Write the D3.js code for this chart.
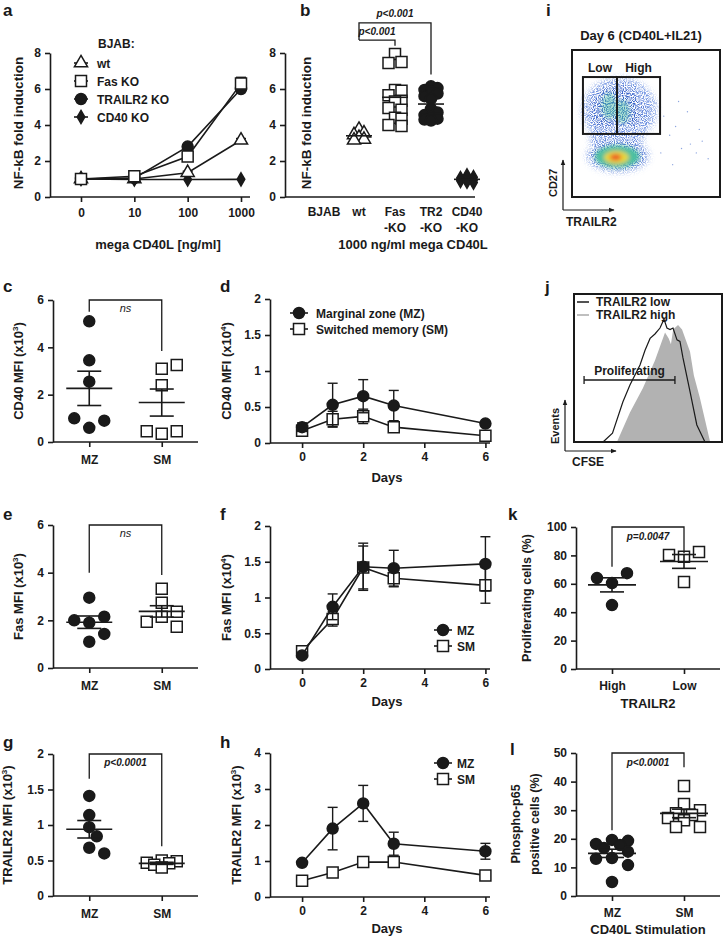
<!DOCTYPE html>
<html>
<head>
<meta charset="utf-8">
<script src="https://cdn.jsdelivr.net/npm/d3@7"></script>
<style>
  body { margin: 0; background: #fff; }
  text { font-family: "Liberation Sans", Arial, sans-serif; font-weight: bold; fill: #1a1a1a; }
</style>
</head>
<body>
<script>
// ---------- data ----------
// a: NF-kB fold induction vs mega CD40L dose (ng/ml)
const aDoses = ["0", "10", "100", "1000"];
const aNames = ["wt", "Fas KO", "TRAILR2 KO", "CD40 KO"];
const aWt = [1.0, 1.0, 1.35, 3.15];
const aWtSem = [0.02, 0.03, 0.08, 0.1];
const aFas = [1.0, 1.15, 2.25, 6.3];
const aFasSem = [0.03, 0.05, 0.1, 0.35];
const aTr2 = [1.0, 1.05, 2.8, 6.0];
const aTr2Sem = [0.02, 0.04, 0.08, 0.1];
const aCd40 = [1.0, 0.97, 0.97, 0.98];

// b: 1000 ng/ml mega CD40L
const bGroups = ["wt", "Fas-KO", "TR2-KO", "CD40-KO"];
const bWt = [3.75, 3.55, 3.45, 3.3, 3.2, 3.15];
const bFas = [7.95, 7.5, 7.45, 5.95, 5.9, 5.65, 5.35, 5.3, 4.95, 4.85, 4.4, 4.35, 4.0, 3.95];
const bTr2 = [6.15, 6.05, 5.95, 5.85, 5.75, 5.6, 5.45, 4.9, 4.7, 4.55, 4.45, 4.35, 4.3, 4.25];
const bCd40 = [1.2, 1.1, 1.05, 1.0, 0.95, 0.9, 0.85, 0.8];

// c, e, g: MZ vs SM (x10^3)
const cellTypes = ["MZ", "SM"];
const cMZ = [5.1, 3.45, 2.55, 0.6, 0.9, 1.0];
const cSM = [3.1, 3.25, 2.4, 0.35, 0.45, 0.45];
const eMZ = [2.95, 1.9, 2.15, 2.0, 1.43, 1.1];
const eSM = [3.33, 2.74, 2.36, 2.15, 1.94, 1.73];
const gMZ = [1.41, 1.14, 0.97, 0.84, 0.68, 0.60];
const gSM = [0.50, 0.49, 0.47, 0.46, 0.44, 0.40];

// d, f, h: time course
const days = [0, 1, 2, 3, 6];
const dMZ = [0.22, 0.53, 0.65, 0.52, 0.27];
const dMZSem = [0.06, 0.30, 0.23, 0.21, 0.02];
const dSM = [0.17, 0.33, 0.37, 0.22, 0.10];
const dSMSem = [0.03, 0.11, 0.10, 0.03, 0.05];
const fMZ = [0.19, 0.87, 1.43, 1.41, 1.47];
const fMZSem = [0.02, 0.18, 0.33, 0.25, 0.38];
const fSM = [0.25, 0.70, 1.42, 1.27, 1.17];
const fSMSem = [0.03, 0.10, 0.30, 0.12, 0.25];
const hMZ = [0.95, 1.9, 2.6, 1.48, 1.27];
const hMZSem = [0.04, 0.59, 0.50, 0.32, 0.22];
const hSM = [0.45, 0.68, 0.97, 0.97, 0.60];
const hSMSem = [0.02, 0.04, 0.05, 0.05, 0.04];

// i: CD27 vs TRAILR2 density contours (axis units 0-100)
const densTRAILR2 = [32, 30, 30, 25, 34, 31, 31, 30.5, 30, 29.5];
const densCD27 = [59, 59, 40, 62, 58, 28, 28, 27.5, 27, 27];
const densRx = [25, 17, 18, 5, 5, 21, 17, 15, 8.5, 4];
const densRy = [22, 16, 10, 9, 8, 11, 9, 7.5, 4.5, 2.2];
const densLevel = [0, 1, 0, 2, 2, 0, 1, 2, 3, 4];
const sparseTRAILR2 = [62, 66, 70, 74, 80, 84, 88, 92, 60, 68, 78, 72, 86, 57];
const sparseCD27 = [55, 42, 48, 33, 36, 30, 38, 26, 30, 22, 58, 65, 46, 64];
const gateNames = ["Low", "High"];
const gateTRAILR2 = [7.4, 30.4, 59.5];
const gateCD27 = [42.9, 81.6];

// j: CFSE histograms
const cfseLow = [19.6, 26, 33, 37.8, 44.6, 48, 51.4, 54.7, 58.1, 60.8, 62.8, 64.9, 66.9, 69.6, 71.6, 73.6, 78.4, 83, 88.5];
const eventsLow = [0, 6, 27, 38.5, 52, 62, 70, 73, 77, 83, 77, 76, 77, 69, 68, 57, 34, 11.5, 0];
const cfseHigh = [29, 37.8, 46.6, 54.7, 61.5, 64, 65.5, 67, 70.3, 73, 78.4, 81, 85, 88.5, 92];
const eventsHigh = [0, 20, 36.5, 55, 74, 70, 66, 76, 79, 76, 61, 45, 30, 15, 0];
const proliferatingGate = [6.8, 68.2];

// k: proliferating cells (%)
const trailr2Groups = ["High", "Low"];
const kHigh = [60.5, 45, 67.5, 64];
const kLow = [79, 61.3, 82.4, 80.3];

// l: phospho-p65 positive cells (%)
const lMZ = [19.6, 19.3, 18.2, 17.8, 16.8, 15.5, 13.3, 13.0, 10.8, 4.9];
const lSM = [38.5, 32.2, 30.0, 28.9, 28.3, 27.3, 26.5, 24.1, 24.1];

// ---------- drawing ----------
const ink = "#1a1a1a";
const LW = 1.6;
const svg = d3.select("body").append("svg")
  .attr("width", 725).attr("height", 939).style("display", "block");

const defs = svg.append("defs");
defs.append("marker").attr("id", "arr").attr("viewBox", "0 0 10 10")
  .attr("refX", 9).attr("refY", 5).attr("markerWidth", 5).attr("markerHeight", 5)
  .attr("orient", "auto")
  .append("path").attr("d", "M0,1L10,5L0,9Z").attr("fill", ink);
defs.append("filter").attr("id", "blur").attr("x", "-50%").attr("y", "-50%").attr("width", "200%").attr("height", "200%")
  .append("feGaussianBlur").attr("stdDeviation", 2);
const speck = defs.append("filter").attr("id", "speck").attr("x", "-50%").attr("y", "-50%").attr("width", "200%").attr("height", "200%");
speck.append("feGaussianBlur").attr("in", "SourceGraphic").attr("stdDeviation", 3).attr("result", "b");
speck.append("feTurbulence").attr("type", "fractalNoise").attr("baseFrequency", 0.9).attr("numOctaves", 1).attr("seed", 4).attr("result", "n");
speck.append("feColorMatrix").attr("in", "n").attr("type", "matrix")
  .attr("values", "0 0 0 0 0  0 0 0 0 0  0 0 0 0 0  4 0 0 0 -1.6").attr("result", "m");
speck.append("feComposite").attr("in", "b").attr("in2", "m").attr("operator", "in");

function axisStyle(g) {
  g.attr("font-family", null).attr("font-size", null);
  g.selectAll("path, line").attr("stroke", ink).attr("stroke-width", LW);
  g.selectAll("text").attr("font-size", 12).attr("fill", ink);
}

function leftAxis(x0, y, ticks) {
  const g = svg.append("g").attr("transform", `translate(${x0},0)`)
    .call(d3.axisLeft(y).tickValues(ticks).tickSize(5).tickSizeOuter(0).tickPadding(4).tickFormat(d3.format("")));
  axisStyle(g);
  return g;
}

function bottomAxis(y0, x, x1, x2, ticks, pad) {
  const ax = d3.axisBottom(x).tickSize(5).tickPadding(pad).tickFormat(d => d);
  if (ticks) ax.tickValues(ticks);
  const g = svg.append("g").attr("transform", `translate(0,${y0})`).call(ax);
  g.select(".domain").remove();
  g.append("line").attr("x1", x1).attr("x2", x2);
  axisStyle(g);
  return g;
}

function text(x, y, s, o = {}) {
  const t = svg.append("text").attr("x", x).attr("y", y).text(s)
    .attr("font-size", o.size || 12).attr("text-anchor", o.anchor || "start");
  if (o.italic) t.attr("font-style", "italic");
  if (o.normal) t.style("font-weight", "normal");
  return t;
}

function yTitle(x, yc, main, sup, size) {
  const t = svg.append("text").attr("transform", `translate(${x},${yc}) rotate(-90)`)
    .attr("text-anchor", "middle").attr("font-size", size || 13);
  t.append("tspan").text(main);
  if (sup) {
    t.append("tspan").attr("dy", -5).attr("font-size", 8).text(sup);
    t.append("tspan").attr("dy", 5).text(")");
  }
}

// simple beeswarm: try centre, then right/left slots up to maxK steps
function swarm(values, y, step, minDist, maxK) {
  const placed = [];
  values.forEach(v => {
    const py = y(v);
    let best = 0, bestD = -1;
    for (let k = 0; k <= 2 * maxK; k++) {
      const off = k === 0 ? 0 : (k % 2 ? 1 : -1) * Math.ceil(k / 2) * step;
      const dmin = placed.length ? d3.min(placed, p => Math.hypot(p.dx - off, p.py - py)) : Infinity;
      if (dmin >= minDist) { best = off; break; }
      if (dmin > bestD) { bestD = dmin; best = off; }
    }
    placed.push({ v, py, dx: best });
  });
  return placed;
}

function dotGroup(cx, vals, y, sym, size, fill, sw, meanW, sem) {
  const pts = swarm(vals, y, sw[0], sw[1], sw[2]);
  const g = svg.append("g");
  g.selectAll("path").data(pts).join("path")
    .attr("transform", d => `translate(${cx + d.dx},${d.py})`)
    .attr("d", d3.symbol(sym, size))
    .attr("fill", fill).attr("stroke", ink).attr("stroke-width", 1.5);
  const m = d3.mean(vals);
  const s = d3.deviation(vals) / Math.sqrt(vals.length);
  const lines = [[cx - meanW / 2, y(m), cx + meanW / 2, y(m)]];
  if (sem) {
    lines.push([cx, y(m - s), cx, y(m + s)]);
    lines.push([cx - 12, y(m + s), cx + 12, y(m + s)]);
    lines.push([cx - 12, y(m - s), cx + 12, y(m - s)]);
  }
  g.selectAll("line").data(lines).join("line")
    .attr("x1", d => d[0]).attr("y1", d => d[1]).attr("x2", d => d[2]).attr("y2", d => d[3])
    .attr("stroke", ink).attr("stroke-width", LW);
}

function bracket(y, xa, xb, top, la, lb, label, ty, bold) {
  svg.append("path").attr("fill", "none").attr("stroke", ink).attr("stroke-width", 1.3)
    .attr("d", `M${xa},${y(la)}V${y(top)}H${xb}V${y(lb)}`);
  text((xa + xb) / 2, y(top) + ty, label, { anchor: "middle", size: bold ? 10 : 11, italic: true, normal: !bold });
}

function series(x, y, xs, vals, sem, sym, size, fill) {
  const pts = vals.map((v, i) => ({ x: xs[i], v, e: sem ? sem[i] : 0 }));
  const g = svg.append("g");
  g.append("path").datum(pts).attr("fill", "none").attr("stroke", ink).attr("stroke-width", LW)
    .attr("d", d3.line().x(d => x(d.x)).y(d => y(d.v)));
  const eb = g.append("g").selectAll("g").data(pts.filter(d => d.e > 0)).join("g")
    .attr("stroke", ink).attr("stroke-width", 1.4);
  eb.append("line").attr("x1", d => x(d.x)).attr("x2", d => x(d.x))
    .attr("y1", d => y(d.v - d.e)).attr("y2", d => y(d.v + d.e));
  eb.append("line").attr("x1", d => x(d.x) - 5).attr("x2", d => x(d.x) + 5)
    .attr("y1", d => y(d.v + d.e)).attr("y2", d => y(d.v + d.e));
  eb.append("line").attr("x1", d => x(d.x) - 5).attr("x2", d => x(d.x) + 5)
    .attr("y1", d => y(d.v - d.e)).attr("y2", d => y(d.v - d.e));
  g.append("g").selectAll("path").data(pts).join("path")
    .attr("transform", d => `translate(${x(d.x)},${y(d.v)})`)
    .attr("d", d3.symbol(sym, size)).attr("fill", fill)
    .attr("stroke", ink).attr("stroke-width", 1.5);
}

function legendItem(x, y, half, sym, size, fill, label, tx) {
  svg.append("line").attr("x1", x - half).attr("x2", x + half).attr("y1", y).attr("y2", y)
    .attr("stroke", ink).attr("stroke-width", LW);
  svg.append("path").attr("transform", `translate(${x},${y})`).attr("d", d3.symbol(sym, size))
    .attr("fill", fill).attr("stroke", ink).attr("stroke-width", 1.5);
  text(tx, y + 4.5, label);
}

const SQ = 121, CI = 95, TRI = 75, DIA = 50;

// panel letters
[["a", 3, 16], ["b", 300, 16], ["i", 546, 16], ["c", 3, 292], ["d", 220, 292], ["j", 545, 293],
 ["e", 3, 520], ["f", 220, 520], ["k", 508, 520], ["g", 3, 748], ["h", 220, 748], ["l", 510, 755]]
  .forEach(d => text(d[1], d[2], d[0], { size: 17 }));

// ----- a -----
{
  const y = d3.scaleLinear().domain([0, 8]).range([197, 53]);
  const x = d3.scalePoint().domain(aDoses).range([81, 241]);
  leftAxis(50, y, [0, 2, 4, 6, 8]);
  bottomAxis(197, x, 50, 250, null, 6);
  series(x, y, aDoses, aCd40, null, d3.symbolDiamond, DIA, ink);
  series(x, y, aDoses, aWt, aWtSem, d3.symbolTriangle, TRI, "#fff");
  series(x, y, aDoses, aTr2, aTr2Sem, d3.symbolCircle, CI, ink);
  series(x, y, aDoses, aFas, aFasSem, d3.symbolSquare, SQ, "#fff");
  yTitle(23, 123, "NF-kB fold induction", null, 13.5);
  text(158, 249, "mega CD40L [ng/ml]", { anchor: "middle", size: 13 });
  text(98, 48, "BJAB:");
  const syms = [[d3.symbolTriangle, TRI, "#fff"], [d3.symbolSquare, SQ, "#fff"], [d3.symbolCircle, CI, ink], [d3.symbolDiamond, DIA, ink]];
  aNames.forEach((n, i) => legendItem(81, 63 + i * 18, 7, syms[i][0], syms[i][1], syms[i][2], n, 97));
}

// ----- b -----
{
  const y = d3.scaleLinear().domain([0, 8]).range([197, 53]);
  const x = d3.scalePoint().domain(bGroups).range([359, 467]);
  leftAxis(285, y, [0, 2, 4, 6, 8]);
  svg.append("line").attr("x1", 285).attr("x2", 475).attr("y1", 197).attr("y2", 197)
    .attr("stroke", ink).attr("stroke-width", LW);
  bGroups.forEach(n => {
    const parts = n.split("-");
    text(x(n), 216, parts[0], { anchor: "middle" });
    if (parts[1]) text(x(n), 232, "-" + parts[1], { anchor: "middle" });
  });
  text(324, 216, "BJAB", { anchor: "middle" });
  const sw = [6.5, 9, 1];
  dotGroup(x("wt"), bWt, y, d3.symbolTriangle, TRI, "#fff", [5, 9, 1], 26, false);
  dotGroup(x("Fas-KO"), bFas, y, d3.symbolSquare, SQ, "#fff", sw, 26, false);
  dotGroup(x("TR2-KO"), bTr2, y, d3.symbolCircle, CI, ink, sw, 26, false);
  dotGroup(x("CD40-KO"), bCd40, y, d3.symbolDiamond, DIA, ink, sw, 26, false);
  bracket(y, x("wt"), x("TR2-KO"), 9.67, 8.72, 6.8, "p<0.001", -6, true);
  bracket(y, x("wt"), x("Fas-KO"), 8.72, 8.72, 8.4, "p<0.001", -5, true);
  yTitle(311, 123, "NF-kB fold induction", null, 13.5);
  text(413, 249, "1000 ng/ml mega CD40L", { anchor: "middle", size: 13 });
}

// ----- i -----
{
  const x = d3.scaleLinear().domain([0, 100]).range([572, 720]);
  const y = d3.scaleLinear().domain([0, 100]).range([197, 50]);
  const levelColor = ["#6a8ee0", "#3660c8", "#4cc0a0", "#e8d83a", "#ec4f25"];
  const dens = densLevel.map((l, i) => ({ l, cx: densTRAILR2[i], cy: densCD27[i], rx: densRx[i], ry: densRy[i] }));
  const outer = svg.append("g").attr("filter", "url(#speck)");
  outer.selectAll("ellipse").data(dens.filter(d => d.l < 2)).join("ellipse")
    .attr("cx", d => x(d.cx)).attr("cy", d => y(d.cy))
    .attr("rx", d => x(d.rx) - x(0)).attr("ry", d => y(0) - y(d.ry))
    .attr("fill", d => levelColor[d.l]);
  const inner = svg.append("g").attr("filter", "url(#blur)");
  inner.selectAll("ellipse").data(dens.filter(d => d.l >= 2)).join("ellipse")
    .attr("cx", d => x(d.cx)).attr("cy", d => y(d.cy))
    .attr("rx", d => x(d.rx) - x(0)).attr("ry", d => y(0) - y(d.ry))
    .attr("fill", d => levelColor[d.l]).attr("opacity", d => d.cy > 45 ? 0.45 : 1);
  svg.append("g").selectAll("circle").data(sparseTRAILR2).join("circle")
    .attr("cx", d => x(d)).attr("cy", (d, i) => y(sparseCD27[i])).attr("r", 0.7)
    .attr("fill", "#8ea6e0");
  svg.append("rect").attr("x", 572).attr("y", 50).attr("width", 148).attr("height", 147)
    .attr("fill", "none").attr("stroke", ink).attr("stroke-width", 2);
  gateNames.forEach((n, i) => {
    svg.append("rect").attr("x", x(gateTRAILR2[i])).attr("y", y(gateCD27[1]))
      .attr("width", x(gateTRAILR2[i + 1]) - x(gateTRAILR2[i])).attr("height", y(gateCD27[0]) - y(gateCD27[1]))
      .attr("fill", "none").attr("stroke", ink).attr("stroke-width", 2);
    text((x(gateTRAILR2[i]) + x(gateTRAILR2[i + 1])) / 2, 72, n, { anchor: "middle" });
  });
  text(641, 40, "Day 6 (CD40L+IL21)", { anchor: "middle", size: 13 });
  svg.append("path").attr("d", "M563,210V160").attr("stroke", ink).attr("stroke-width", 1.2).attr("marker-end", "url(#arr)");
  svg.append("path").attr("d", "M563,210H614").attr("stroke", ink).attr("stroke-width", 1.2).attr("marker-end", "url(#arr)");
  svg.append("text").attr("transform", "translate(557,183) rotate(-90)").attr("text-anchor", "middle").attr("font-size", 11).text("CD27");
  text(566, 226, "TRAILR2", { size: 12 });
}

// ----- j -----
{
  const x = d3.scaleLinear().domain([0, 100]).range([574, 722]);
  const y = d3.scaleLinear().domain([0, 100]).range([442, 294]);
  text(596, 306, "TRAILR2 low");
  text(596, 319, "TRAILR2 high");
  svg.append("line").attr("x1", 577).attr("x2", 589).attr("y1", 302).attr("y2", 302).attr("stroke", ink).attr("stroke-width", 1.5);
  svg.append("line").attr("x1", 577).attr("x2", 589).attr("y1", 315).attr("y2", 315).attr("stroke", "#aaa").attr("stroke-width", 1.5);
  svg.append("path").datum(cfseHigh.map((c, i) => [c, eventsHigh[i]]))
    .attr("fill", "#b2b2b2").attr("stroke", "none")
    .attr("d", d3.area().x(d => x(d[0])).y0(y(0)).y1(d => y(d[1])));
  svg.append("path").datum(cfseLow.map((c, i) => [c, eventsLow[i]]))
    .attr("fill", "none").attr("stroke", ink).attr("stroke-width", 1.2)
    .attr("d", d3.line().x(d => x(d[0])).y(d => y(d[1])));
  const py = 380;
  const p0 = x(proliferatingGate[0]), p1 = x(proliferatingGate[1]);
  svg.append("path").attr("fill", "none").attr("stroke", ink).attr("stroke-width", 1.3)
    .attr("d", `M${p0},${py - 4}V${py + 4}M${p0},${py}H${p1}M${p1},${py - 4}V${py + 4}`);
  text((p0 + p1) / 2, 375, "Proliferating", { anchor: "middle" });
  svg.append("rect").attr("x", 574).attr("y", 294).attr("width", 148).attr("height", 148)
    .attr("fill", "none").attr("stroke", ink).attr("stroke-width", 2);
  svg.append("path").attr("d", "M565,451V400").attr("stroke", ink).attr("stroke-width", 1.2).attr("marker-end", "url(#arr)");
  svg.append("path").attr("d", "M565,451H616").attr("stroke", ink).attr("stroke-width", 1.2).attr("marker-end", "url(#arr)");
  svg.append("text").attr("transform", "translate(559,426) rotate(-90)").attr("text-anchor", "middle").attr("font-size", 11).text("Events");
  text(572, 466, "CFSE", { size: 12 });
}

// ----- dot panels c, e, g -----
function cellPanel(y0, y1, domain, ticks, mz, sm, sw, br, titleX, title, sup) {
  const y = d3.scaleLinear().domain(domain).range([y0, y1]);
  const x = d3.scalePoint().domain(cellTypes).range([53, 198]).padding(0.5);
  leftAxis(53, y, ticks);
  bottomAxis(y0, x, 53, 198, null, 8);
  dotGroup(x("MZ"), mz, y, d3.symbolCircle, CI, ink, sw, 46, true);
  dotGroup(x("SM"), sm, y, d3.symbolSquare, SQ, "#fff", sw, 46, true);
  bracket(y, x("MZ"), x("SM"), domain[1], br[0], br[1], br[2], 12, br[2] !== "ns");
  yTitle(titleX, (y0 + y1) / 2, title, sup);
}
cellPanel(442, 300, [0, 6], [0, 2, 4, 6], cMZ, cSM, [15, 13, 1], [5.5, 3.85, "ns"], 23, "CD40 MFI (x10", "3");
cellPanel(668, 525, [0, 6], [0, 2, 4, 6], eMZ, eSM, [15, 13, 1], [4.0, 3.9, "ns"], 23, "Fas MFI (x10", "3");
cellPanel(896, 754, [0, 2], [0, 0.5, 1, 1.5, 2], gMZ, gSM, [7.5, 11, 2], [1.65, 0.7, "p<0.0001"], 12, "TRAILR2 MFI (x10", "3");

// ----- time course panels d, f, h -----
function timePanel(y0, y1, domain, ticks, mz, mzSem, sm, smSem, titleX, title, sup, daysY) {
  const y = d3.scaleLinear().domain(domain).range([y0, y1]);
  const x = d3.scaleLinear().domain([-1.05, 6.15]).range([270, 490]);
  leftAxis(270, y, ticks);
  bottomAxis(y0, x, 270, 490, [0, 2, 4, 6], 4);
  series(x, y, days, sm, smSem, d3.symbolSquare, SQ, "#fff");
  series(x, y, days, mz, mzSem, d3.symbolCircle, CI, ink);
  yTitle(titleX, (y0 + y1) / 2, title, sup);
  text(387, daysY, "Days", { anchor: "middle", size: 13 });
}
timePanel(443, 299, [0, 2], [0, 0.5, 1, 1.5, 2], dMZ, dMZSem, dSM, dSMSem, 231, "CD40 MFI (x10", "4", 482);
legendItem(299, 313, 9, d3.symbolCircle, CI, ink, "Marginal zone (MZ)", 316);
legendItem(299, 329, 9, d3.symbolSquare, SQ, "#fff", "Switched memory (SM)", 316);
timePanel(669, 526, [0, 2], [0, 0.5, 1, 1.5, 2], fMZ, fMZSem, fSM, fSMSem, 231, "Fas MFI (x10", "4", 706);
legendItem(443, 630, 9, d3.symbolCircle, CI, ink, "MZ", 457);
legendItem(443, 646, 9, d3.symbolSquare, SQ, "#fff", "SM", 457);
timePanel(897, 753, [0, 4], [0, 1, 2, 3, 4], hMZ, hMZSem, hSM, hSMSem, 241, "TRAILR2 MFI (x10", "3", 933);
legendItem(443, 763, 9, d3.symbolCircle, CI, ink, "MZ", 457);
legendItem(443, 779, 9, d3.symbolSquare, SQ, "#fff", "SM", 457);

// ----- k -----
{
  const y = d3.scaleLinear().domain([0, 100]).range([669, 527]);
  const x = d3.scalePoint().domain(trailr2Groups).range([576, 720]).padding(0.5);
  leftAxis(576, y, [0, 20, 40, 60, 80, 100]);
  bottomAxis(669, x, 576, 720, null, 7);
  dotGroup(x("High"), kHigh, y, d3.symbolCircle, CI, ink, [15, 13, 1], 48, true);
  dotGroup(x("Low"), kLow, y, d3.symbolSquare, SQ, "#fff", [15, 13, 1], 48, true);
  bracket(y, x("High"), x("Low"), 100, 72, 81.5, "p=0.0047", 13, true);
  yTitle(531, 598, "Proliferating cells (%)", null, 12.5);
  text(648, 708, "TRAILR2", { anchor: "middle", size: 13 });
}

// ----- l -----
{
  const y = d3.scaleLinear().domain([0, 50]).range([896, 753]);
  const x = d3.scalePoint().domain(cellTypes).range([576, 720]).padding(0.5);
  leftAxis(576, y, [0, 10, 20, 30, 40, 50]);
  bottomAxis(896, x, 576, 720, null, 7);
  dotGroup(x("MZ"), lMZ, y, d3.symbolCircle, CI, ink, [8, 11, 2], 48, true);
  dotGroup(x("SM"), lSM, y, d3.symbolSquare, SQ, "#fff", [8, 11, 2], 48, true);
  bracket(y, x("MZ"), x("SM"), 50, 23, 45, "p<0.0001", 13, true);
  yTitle(520, 824, "Phospho-p65", null, 12.5);
  yTitle(539, 824, "positive cells (%)", null, 12.5);
  text(648, 934, "CD40L Stimulation", { anchor: "middle", size: 13 });
}
</script>
</body>
</html>
